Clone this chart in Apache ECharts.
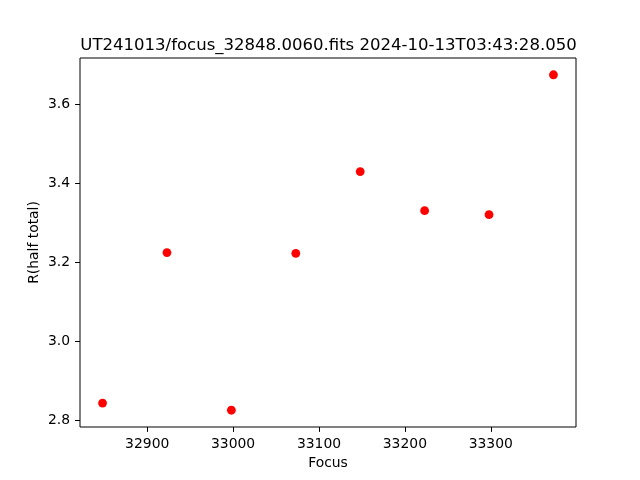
<!DOCTYPE html>
<html>
<head>
<meta charset="utf-8">
<script src="https://cdn.jsdelivr.net/npm/echarts@6/dist/echarts.min.js"></script>
<style>html,body{margin:0;padding:0;background:#fff}#c{width:640px;height:480px}</style>
</head>
<body>
<div id="c"></div>
<script>
var focusValues = [32848, 32923, 32998, 33073, 33148, 33223, 33298, 33373];
var radiusValues = [2.844, 3.225, 2.826, 3.223, 3.430, 3.331, 3.321, 3.675];
var xTicks = [32900, 33000, 33100, 33200, 33300];
var yTicks = [2.8, 3.0, 3.2, 3.4, 3.6];
var titleText = 'UT241013/focus_32848.0060.fits 2024-10-13T03:43:28.050';

function padRange(arr) {
  var lo = Math.min.apply(null, arr), hi = Math.max.apply(null, arr);
  var m = (hi - lo) * 0.05;
  return [lo - m, hi + m];
}
var xr = padRange(focusValues), yr = padRange(radiusValues);
var font = 'DejaVu Sans';
var chart = echarts.init(document.getElementById('c'), null, {renderer: 'canvas'});
chart.setOption({
  animation: false,
  backgroundColor: '#fff',
  title: {
    text: titleText, left: 323.5, textAlign: 'center', top: 32,
    textStyle: {fontFamily: font, fontSize: 16.55, fontWeight: 'normal', color: '#000'}
  },
  grid: {left: 80, right: 64, top: 58, bottom: 53, show: true, borderColor: '#000', borderWidth: 1, backgroundColor: '#fff'},
  xAxis: {
    type: 'value', min: xr[0], max: xr[1],
    name: 'Focus', nameLocation: 'middle', nameGap: 29, nameMoveOverlap: false,
    nameTextStyle: {fontFamily: font, fontSize: 13.9, color: '#000'},
    axisLine: {show: false},
    axisTick: {show: true, inside: false, length: 4.9, lineStyle: {color: '#000', width: 1}, customValues: xTicks},
    axisLabel: {fontFamily: font, fontSize: 13.9, color: '#000', margin: 10, customValues: xTicks,
      formatter: function (v) { return String(Math.round(v)); }},
    splitLine: {show: false}
  },
  yAxis: {
    type: 'value', min: yr[0], max: yr[1],
    name: 'R(half total)', nameLocation: 'middle', nameGap: 39, nameMoveOverlap: false,
    nameTextStyle: {fontFamily: font, fontSize: 13.9, color: '#000'},
    axisLine: {show: false},
    axisTick: {show: true, inside: false, length: 4.9, lineStyle: {color: '#000', width: 1}, customValues: yTicks},
    axisLabel: {fontFamily: font, fontSize: 13.9, color: '#000', margin: 10, customValues: yTicks,
      formatter: function (v) { return v.toFixed(1); }},
    splitLine: {show: false}
  },
  series: [{
    type: 'scatter',
    data: focusValues.map(function (f, i) { return [f, radiusValues[i]]; }),
    symbol: 'circle', symbolSize: 8.8,
    itemStyle: {color: '#ff0000', opacity: 1}
  }]
});
</script>
</body>
</html>
